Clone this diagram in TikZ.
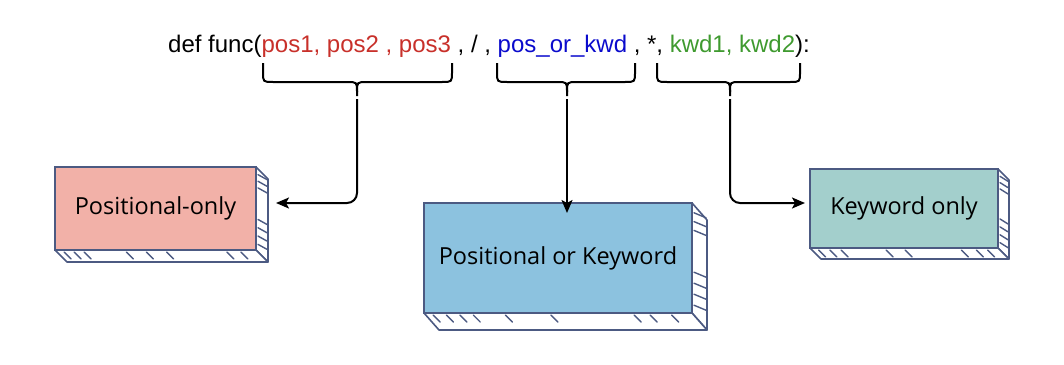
\documentclass[tikz,border=0pt]{standalone}
\usepackage{fontspec}
\setmainfont{Liberation Sans}
\newfontfamily\boxfont{Open Sans}
\usetikzlibrary{arrows.meta,calc}
\definecolor{cred}{HTML}{C8302A}
\definecolor{cblue}{HTML}{0A0ACC}
\definecolor{cgreen}{HTML}{3F9A2F}
\definecolor{bord}{HTML}{4C5A82}
\definecolor{fpink}{HTML}{F2B1A8}
\definecolor{fblue}{HTML}{8CC2DF}
\definecolor{fteal}{HTML}{A3CFCC}
\tikzset{
  facebox/.style={draw=bord, line width=2pt, outer sep=0pt, inner sep=0pt,
     font=\boxfont\fontsize{23.5}{28}\selectfont, text=black},
  bracepath/.style={draw=black, line width=2pt},
  conn/.style={draw=black, line width=2pt, rounded corners=10pt,
     -{Stealth[length=13pt,width=11pt,inset=3pt]}},
  sideface/.style={draw=bord, fill=white, line width=1.6pt, line join=round},
  hatch/.style={draw=bord, line width=1.4pt, line cap=round}
}
\newcommand\sidefaces[4]{% node, dx, dy, list of fractions
  \path[sideface] (#1.north east) -- ++(#2,#3) -- ($(#1.south east)+(#2,#3)$) -- (#1.south east) -- cycle;
  \path[sideface] (#1.south west) -- (#1.south east) -- ($(#1.south east)+(#2,#3)$) -- ($(#1.south west)+(#2,#3)$) -- cycle;
  \foreach \f in {#4} {
    \draw[hatch] ($(#1.south west)!\f!(#1.south east)+(1,2)$) -- ++(7,7);
  }
  \foreach \f in {0.08,0.16,0.24,0.62,0.72,0.82,0.92} {
    \draw[hatch] ($(#1.north east)!\f!(#1.south east)+(2,1)$) -- ++(#2-3,5);
  }
}
\newcommand\mybrace[4]{% name, x1, x2, xm
  \draw[bracepath] (#2,63) -- (#2,72) .. controls (#2,82) .. (#2+10,82) -- (#4-10,82)
     .. controls (#4,82) .. (#4,92) -- (#4,96);
  \draw[bracepath] (#4,92) .. controls (#4,82) .. (#4+10,82) -- (#3-10,82)
     .. controls (#3,82) .. (#3,72) -- (#3,63);
  \coordinate (#1) at (#4,99);
}
\begin{document}
\begin{tikzpicture}[x=1pt,y=-1pt]
\useasboundingbox (0,0) rectangle (1064,364);

\node[anchor=base west, inner sep=0pt, font=\fontsize{24}{28}\selectfont] (code) at (168,52)
  {def func(\textcolor{cred}{pos1, pos2 , pos3} , / , \textcolor{cblue}{pos\_or\_kwd} , *, \textcolor{cgreen}{kwd1, kwd2}):};

\mybrace{b1}{263}{452}{357}
\mybrace{b2}{497}{635}{567}
\mybrace{b3}{657}{800}{730}

% boxes
\node[facebox, fill=fpink, minimum width=201pt, minimum height=83pt] (pos) at (155.5,208.5) {Positional-only};
\sidefaces{pos}{12}{12}{0.04,0.09,0.14,0.35,0.45,0.55,0.85,0.92}

\node[facebox, fill=fblue, minimum width=268pt, minimum height=110pt] (por) at (558,258) {Positional or Keyword};
\sidefaces{por}{15}{17}{0.03,0.08,0.13,0.18,0.3,0.47,0.78,0.84,0.92}

\node[facebox, fill=fteal, minimum width=188pt, minimum height=79pt] (kw) at (904,208.5) {Keyword only};
\sidefaces{kw}{11}{11}{0.04,0.1,0.16,0.4,0.5,0.8,0.88,0.94}

% connectors
\draw[conn] (b1) |- ([shift={(20,-5.5)}]pos.east);
\draw[conn] (b2) -- ([yshift=-10pt]b2 |- por.north);
\draw[conn] (b3) |- ([shift={(-5,-5.5)}]kw.west);
\end{tikzpicture}
\end{document}
